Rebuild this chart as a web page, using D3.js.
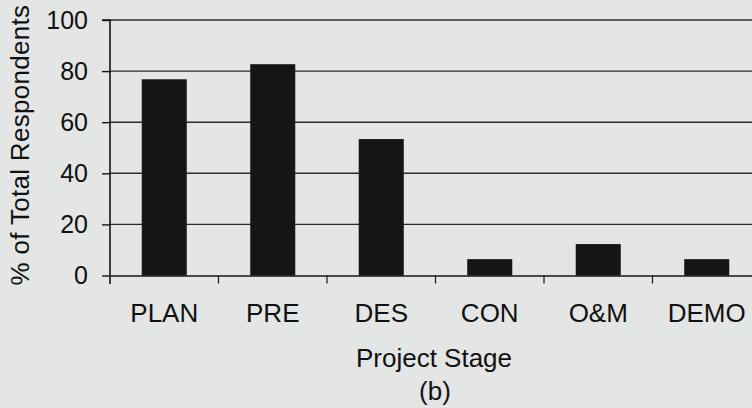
<!DOCTYPE html>
<html>
<head>
<meta charset="utf-8">
<title>Project Stage (b)</title>
<script src="https://d3js.org/d3.v7.min.js"></script>
<style>
  html, body { margin: 0; padding: 0; background: #e4e6e5; }
  svg { display: block; }
  text { font-family: "Liberation Sans", Arial, sans-serif; fill: #111; }
</style>
</head>
<body>
<svg id="chart" width="752" height="408"></svg>
<script>
// data
var stages = ["PLAN", "PRE", "DES", "CON", "O&M", "DEMO"];
var percents = [76.8, 82.7, 53.4, 6.4, 12.3, 6.4];
var yTicks = [0, 20, 40, 60, 80, 100];

var svg = d3.select("#chart");
var ink = "#151515";

var x = d3.scaleBand()
    .domain(stages)
    .range([110, 761])
    .paddingInner(0.585)
    .paddingOuter(0.2925);

var y = d3.scaleLinear()
    .domain([0, 100])
    .range([275.5, 20]);

// gridlines
svg.append("g")
  .selectAll("line")
  .data(yTicks.filter(function(d) { return d > 0; }))
  .join("line")
    .attr("x1", 110)
    .attr("x2", 752)
    .attr("y1", function(d) { return y(d); })
    .attr("y2", function(d) { return y(d); })
    .attr("stroke", "#2a2a2a")
    .attr("stroke-width", 1.4);

// bars
svg.append("g")
  .selectAll("rect")
  .data(percents)
  .join("rect")
    .attr("x", function(d, i) { return x(stages[i]); })
    .attr("y", function(d) { return y(d); })
    .attr("width", x.bandwidth())
    .attr("height", function(d) { return y(0) - y(d); })
    .attr("fill", ink);

// y axis
var yAxis = svg.append("g")
    .attr("transform", "translate(110,0)")
    .call(d3.axisLeft(y).tickValues(yTicks).tickSize(8).tickPadding(14));
yAxis.select(".domain").attr("stroke", ink).attr("stroke-width", 1.6)
    .attr("d", "M-8,20H0V284");
yAxis.selectAll(".tick line").attr("stroke", ink).attr("stroke-width", 1.4);
yAxis.selectAll(".tick text")
    .style("font-size", "25px")
    .attr("fill", ink);

// x axis
var xAxis = svg.append("g")
    .attr("transform", "translate(0," + y(0) + ")")
    .call(d3.axisBottom(x).tickSize(0).tickPadding(28));
xAxis.select(".domain").attr("stroke", ink).attr("stroke-width", 1.6);
xAxis.selectAll(".tick text")
    .style("font-size", "26px")
    .attr("fill", ink);

// boundary ticks between categories
var step = x.step();
svg.append("g")
  .selectAll("line")
  .data(stages.slice(1))
  .join("line")
    .attr("x1", function(d) { return x(d) - x.paddingInner() * step / 2; })
    .attr("x2", function(d) { return x(d) - x.paddingInner() * step / 2; })
    .attr("y1", y(0))
    .attr("y2", y(0) + 8)
    .attr("stroke", ink)
    .attr("stroke-width", 1.2);

// axis titles
svg.append("text")
    .attr("transform", "translate(29,145) rotate(-90)")
    .attr("text-anchor", "middle")
    .style("font-size", "26px")
    .style("letter-spacing", "0.3px")
    .text("% of Total Respondents");

svg.append("text")
    .attr("x", 434)
    .attr("y", 367)
    .attr("text-anchor", "middle")
    .style("font-size", "26px")
    .text("Project Stage");

svg.append("text")
    .attr("x", 435)
    .attr("y", 400)
    .attr("text-anchor", "middle")
    .style("font-size", "26px")
    .text("(b)");
</script>
</body>
</html>
